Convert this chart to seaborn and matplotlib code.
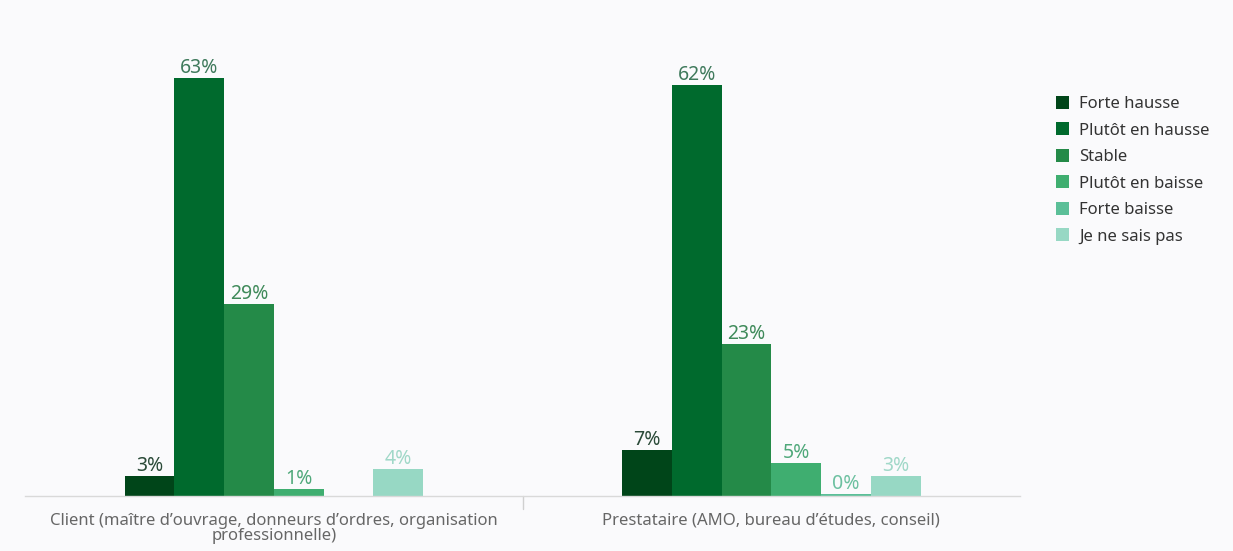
import matplotlib
matplotlib.use("Agg")
import matplotlib.pyplot as plt
import seaborn as sns
import pandas as pd
import numpy as np

categories = ["Client (maître d’ouvrage, donneurs d’ordres, organisation\nprofessionnelle)",
              "Prestataire (AMO, bureau d’études, conseil)"]
series = ["Forte hausse", "Plutôt en hausse", "Stable", "Plutôt en baisse", "Forte baisse", "Je ne sais pas"]
client_values = [3, 63, 29, 1, None, 4]
prestataire_values = [7, 62, 23, 5, 0.3, 3]
colors = ["#004519", "#006a2d", "#248a48", "#3fae70", "#5bbf98", "#97d8c4"]
label_colors = ["#2a4a38", "#3f7a5c", "#3f8a5a", "#4fa87a", "#6cc0a0", "#a0d8c8"]

rows = []
for cat, vals in zip(categories, [client_values, prestataire_values]):
    for s, v in zip(series, vals):
        if v is not None:
            rows.append({"cat": cat, "serie": s, "val": v})
df = pd.DataFrame(rows)

sns.set_theme(style="white")
plt.rcParams['font.family'] = ['Noto Sans', 'DejaVu Sans']

bg = "#fafafc"
fig = plt.figure(figsize=(12.33, 5.51), dpi=100, facecolor=bg)
ax = fig.add_axes([25/1233, 55/551, (1020-25)/1233, 464/551])
ax.set_facecolor(bg)

sns.barplot(data=df, x="cat", y="val", hue="serie", order=categories, hue_order=series,
            palette=colors, width=0.6, saturation=1, ax=ax, errorbar=None, legend=True,
            linewidth=0, edgecolor="none")

for cont, col in zip(ax.containers, label_colors):
    ax.bar_label(cont, fmt="%.0f%%", color=col, fontsize=14, padding=0)

ax.set_ylim(0, 70)
ax.set_xlim(-0.5, 1.5)
ax.set_xlabel("")
ax.set_ylabel("")
ax.set_yticks([])
for sp in ["top", "left", "right"]:
    ax.spines[sp].set_visible(False)
ax.spines["bottom"].set_color("#d9d9d9")
ax.spines["bottom"].set_linewidth(1)
ax.set_xticks([0, 1])
ax.set_xticklabels(categories, fontsize=12, color="#666666", linespacing=0.95)
ax.tick_params(axis="x", length=0, pad=12)
ax.plot([0.5, 0.5], [0, -2], color="#d0d0d0", lw=1, clip_on=False)

handles, labels = ax.get_legend_handles_labels()
ax.get_legend().remove()
fig.legend(handles, labels, loc="upper left", bbox_to_anchor=(1041/1233, 1 - 81/551),
           frameon=False, fontsize=12, handlelength=0.8, handleheight=0.8,
           labelspacing=0.62, handletextpad=0.6, labelcolor="#333333")

fig.savefig("out.png", dpi=100, facecolor=bg)
